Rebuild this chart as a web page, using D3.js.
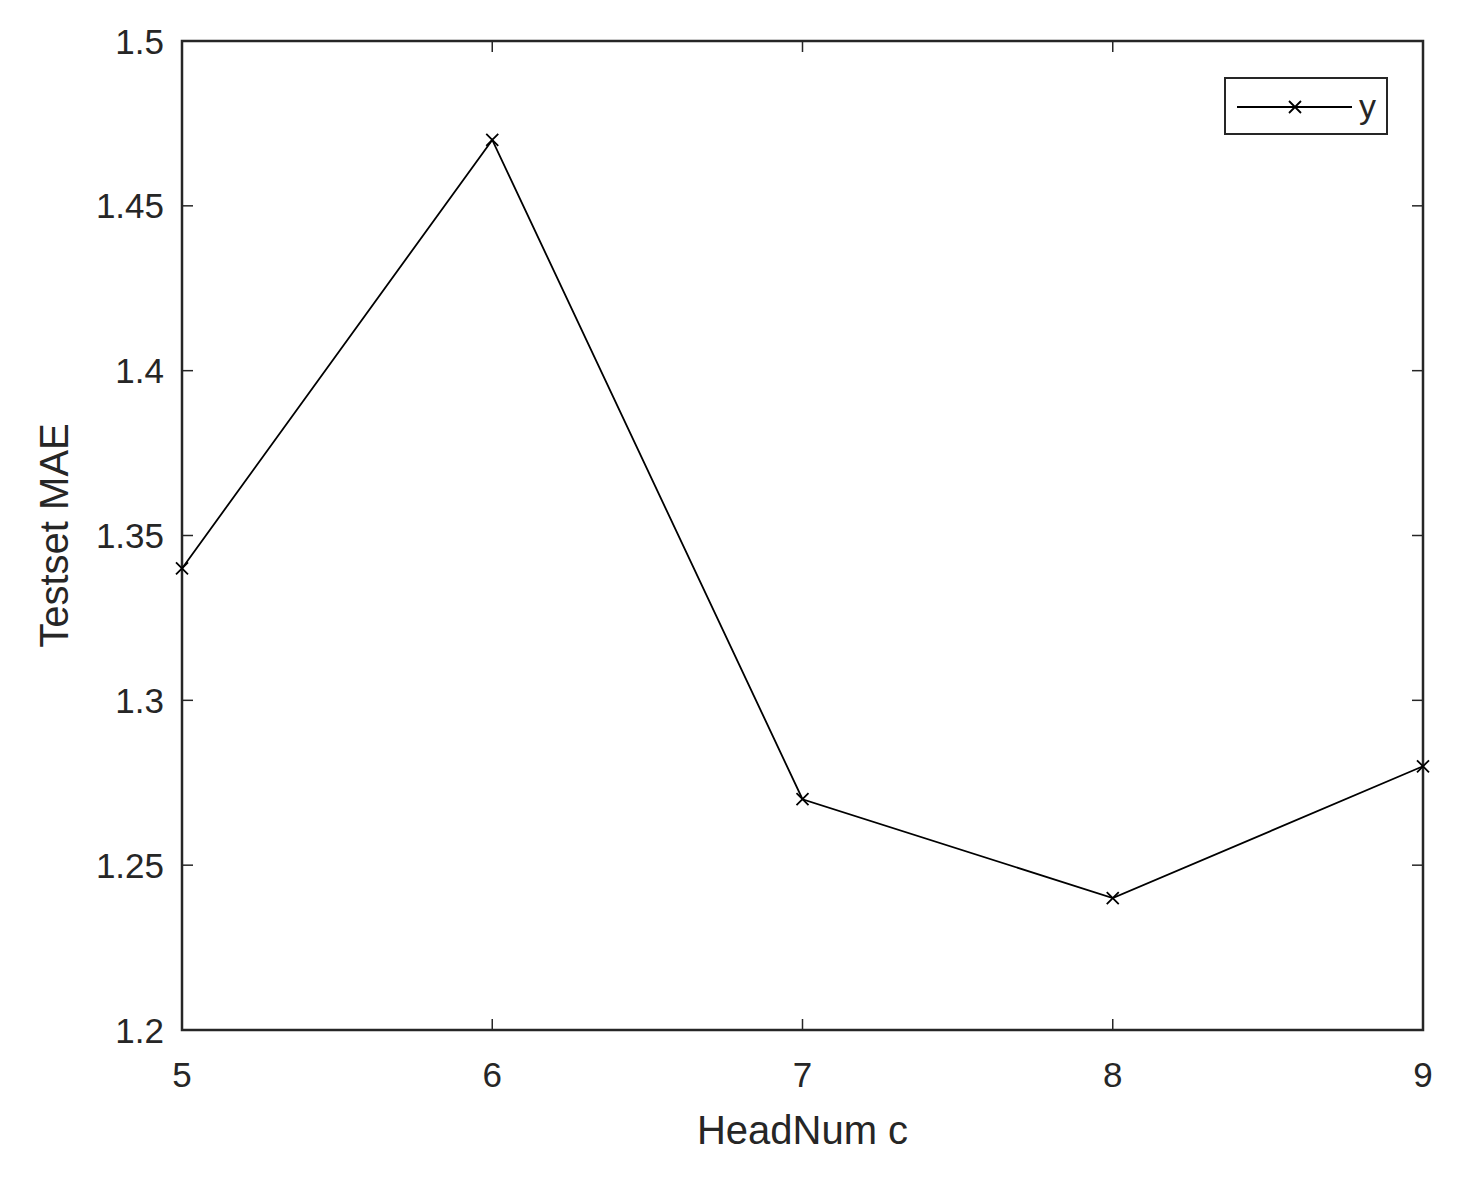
<!DOCTYPE html>
<html>
<head>
<meta charset="utf-8">
<script src="https://cdn.jsdelivr.net/npm/d3@7"></script>
<style>
  body { margin: 0; background: #fff; }
  text { font-family: "Liberation Sans", Arial, sans-serif; fill: #262626; }
</style>
</head>
<body>
<div id="chart"></div>
<script>
// datos
const headNum = [5, 6, 7, 8, 9];
const testMAE = [1.34, 1.47, 1.27, 1.24, 1.28];
const yTicks = [1.2, 1.25, 1.3, 1.35, 1.4, 1.45, 1.5];
const xLabel = "HeadNum c";
const yLabel = "Testset MAE";
const seriesName = "y";

const W = 1458, H = 1178;
const margin = { top: 41, right: 35, bottom: 148, left: 182 };
const width = W - margin.left - margin.right;
const height = H - margin.top - margin.bottom;
const axisColor = "#262626";

const svg = d3.select("#chart")
  .append("svg")
  .attr("width", W)
  .attr("height", H);

const g = svg.append("g")
  .attr("transform", `translate(${margin.left},${margin.top})`);

const x = d3.scaleLinear().domain([5, 9]).range([0, width]);
const y = d3.scaleLinear().domain([1.2, 1.5]).range([height, 0]);

// ticks dentro del área (estilo MATLAB, en los cuatro lados)
const tickLen = 11;
yTicks.forEach(t => {
  g.append("line").attr("x1", 0).attr("x2", tickLen).attr("y1", y(t)).attr("y2", y(t))
    .attr("stroke", axisColor).attr("stroke-width", 1.5);
  g.append("line").attr("x1", width).attr("x2", width - tickLen).attr("y1", y(t)).attr("y2", y(t))
    .attr("stroke", axisColor).attr("stroke-width", 1.5);
  g.append("text")
    .attr("x", -18).attr("y", y(t))
    .attr("dy", "0.36em")
    .attr("text-anchor", "end")
    .attr("font-size", 35)
    .text(t);
});
headNum.forEach(t => {
  g.append("line").attr("x1", x(t)).attr("x2", x(t)).attr("y1", height).attr("y2", height - tickLen)
    .attr("stroke", axisColor).attr("stroke-width", 1.5);
  g.append("line").attr("x1", x(t)).attr("x2", x(t)).attr("y1", 0).attr("y2", tickLen)
    .attr("stroke", axisColor).attr("stroke-width", 1.5);
  g.append("text")
    .attr("x", x(t)).attr("y", height + 57)
    .attr("text-anchor", "middle")
    .attr("font-size", 35)
    .text(t);
});

// caja
g.append("rect")
  .attr("x", 0).attr("y", 0)
  .attr("width", width).attr("height", height)
  .attr("fill", "none")
  .attr("stroke", axisColor)
  .attr("stroke-width", 2.5);

// línea
const line = d3.line()
  .x((d, i) => x(headNum[i]))
  .y(d => y(d));

g.append("path")
  .datum(testMAE)
  .attr("d", line)
  .attr("fill", "none")
  .attr("stroke", "#000")
  .attr("stroke-width", 1.8);

// marcadores x
const m = 6;
function cross(sel, cx, cy) {
  sel.append("path")
    .attr("d", `M${cx - m},${cy - m}L${cx + m},${cy + m}M${cx - m},${cy + m}L${cx + m},${cy - m}`)
    .attr("stroke", "#000")
    .attr("stroke-width", 1.8)
    .attr("fill", "none");
}
testMAE.forEach((d, i) => cross(g, x(headNum[i]), y(d)));

// etiquetas de ejes
svg.append("text")
  .attr("x", margin.left + width / 2)
  .attr("y", 1144)
  .attr("text-anchor", "middle")
  .attr("font-size", 40)
  .text(xLabel);

svg.append("text")
  .attr("transform", `translate(68, ${margin.top + height / 2}) rotate(-90)`)
  .attr("text-anchor", "middle")
  .attr("font-size", 40)
  .text(yLabel);

// leyenda
const leg = svg.append("g").attr("transform", "translate(1225,78)");
leg.append("rect")
  .attr("width", 162).attr("height", 56)
  .attr("fill", "#fff")
  .attr("stroke", axisColor)
  .attr("stroke-width", 2);
leg.append("line")
  .attr("x1", 12).attr("x2", 127).attr("y1", 29).attr("y2", 29)
  .attr("stroke", "#000").attr("stroke-width", 1.8);
cross(leg, 70, 29);
leg.append("text")
  .attr("x", 134).attr("y", 40)
  .attr("font-size", 34)
  .text(seriesName);
</script>
</body>
</html>
